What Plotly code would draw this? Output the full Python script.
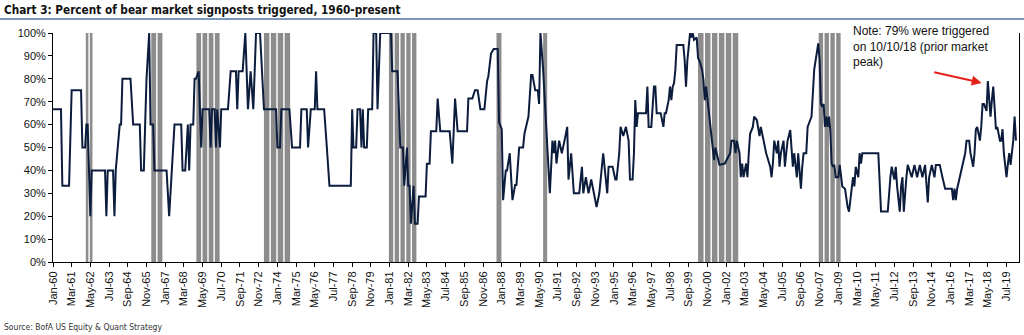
import math
import pandas as pd
import plotly.graph_objects as go

# ---- data ----
dates = [
    "1960-01","1960-07","1960-08","1961-01","1961-03","1961-10","1961-11","1962-01","1962-02","1962-03",
    "1962-05","1962-06","1963-04","1963-05","1963-06","1963-10","1963-11","1963-12","1964-03","1964-04",
    "1964-05","1964-11","1965-01","1965-06","1965-07","1965-09","1965-10","1965-11","1966-01","1966-02",
    "1966-04","1966-05","1967-02","1967-04","1967-06","1967-08","1968-01","1968-02","1968-04","1968-06",
    "1968-07","1968-08","1968-10","1968-11","1968-12","1969-02","1969-04","1969-05","1969-10","1969-11",
    "1969-12","1970-02","1970-03","1970-04","1970-06","1970-07","1970-12","1971-02","1971-06","1971-07",
    "1971-08","1971-11","1972-01","1972-03","1972-05","1972-07","1972-09","1972-12","1973-03","1973-12",
    "1974-01","1974-03","1974-04","1974-10","1974-12","1975-06","1975-07","1975-11","1975-12","1976-02",
    "1976-05","1976-06","1976-07","1976-12","1977-02","1977-04","1978-08","1978-09","1978-10","1978-12",
    "1979-01","1979-03","1979-04","1979-05","1979-06","1979-08","1979-09","1979-12",
    "1980-01","1980-03","1980-04","1980-06","1981-02","1981-03","1981-07","1981-09","1981-11","1981-12",
    "1982-02","1982-03","1982-04","1982-05","1982-07","1982-08","1982-10","1982-11","1983-04","1983-05",
    "1983-07","1983-08","1983-12","1984-01","1984-03","1984-10","1984-12","1985-01","1985-02","1985-04",
    "1985-11","1985-12","1986-03","1986-05","1986-07","1986-09","1986-12","1987-02","1987-03","1987-05",
    "1987-07","1987-10","1987-11","1988-01","1988-02","1988-04","1988-05","1988-07","1988-09","1988-11",
    "1988-12","1989-02","1989-05","1989-06","1989-09","1989-11","1989-12","1990-02","1990-04","1990-05",
    "1990-06","1990-08","1990-10","1991-01","1991-03","1991-04","1991-05","1991-06","1991-08","1991-10",
    "1991-12","1992-02","1992-03","1992-05","1992-07","1992-11","1993-01","1993-02","1993-04","1993-06",
    "1993-08","1993-10","1993-12","1994-02","1994-05","1994-08","1994-09","1994-12","1995-02","1995-03",
    "1995-05","1995-06","1995-08","1995-10","1995-12","1996-01","1996-03","1996-04","1996-05","1996-06",
    "1996-07","1997-01","1997-02","1997-03","1997-05","1997-07","1997-08","1997-09","1997-12","1998-02",
    "1998-03","1998-04","1998-06","1998-07","1998-08","1998-09","1998-10","1998-11","1998-12","1999-05",
    "1999-06","1999-07","1999-08","1999-10","1999-11","1999-12","2000-01","2000-03","2000-04","2000-05",
    "2000-07","2000-08","2000-09","2000-10","2000-11","2000-12","2001-01","2001-02","2001-03","2001-04",
    "2001-05","2001-06","2001-08","2001-12","2002-04","2002-05","2002-07","2002-08","2002-09","2002-11",
    "2002-12","2003-01","2003-02","2003-04","2003-05","2003-06","2003-07","2003-09","2003-10","2003-12",
    "2004-02","2004-03","2004-05","2004-07","2004-10","2004-11","2004-12","2005-01","2005-03","2005-04",
    "2005-05","2005-06","2005-08","2005-09","2005-10","2005-11","2006-01","2006-02","2006-03","2006-04",
    "2006-06","2006-07","2006-08","2006-09","2006-10","2006-11","2007-01","2007-02","2007-04","2007-05",
    "2007-07","2007-08","2007-09","2007-10","2007-11","2007-12","2008-01","2008-02","2008-03","2008-04",
    "2008-05","2008-06","2008-07","2008-08","2008-09","2008-10","2008-11","2009-01","2009-02","2009-03",
    "2009-04","2009-06","2009-07","2009-08","2009-09","2009-11","2009-12","2010-01","2010-02","2010-04",
    "2010-05","2010-06","2010-07","2011-07","2011-08","2011-09","2012-02","2012-03","2012-04","2012-05",
    "2012-07","2012-08","2012-09","2012-11","2012-12","2013-01","2013-02","2013-04","2013-05","2013-08",
    "2013-10","2013-12","2014-02","2014-04","2014-06","2014-08","2014-09","2014-11","2015-01","2015-02",
    "2015-05","2015-07","2015-09","2016-02","2016-03","2016-04","2016-05","2016-06","2016-08","2016-10",
    "2016-12","2017-01","2017-03","2017-04","2017-06","2017-07","2017-08","2017-09","2017-11","2017-12",
    "2018-01","2018-02","2018-04","2018-05","2018-06","2018-07","2018-08","2018-09","2018-10","2018-11",
    "2018-12","2019-02","2019-03","2019-04","2019-05","2019-07","2019-08","2019-09","2019-10","2019-11",
    "2019-12","2020-01","2020-02",
]
pct_triggered = [
    66.7,66.7,33.3,33.3,75,75,50,50,60,60,
    20,40,40,20,40,40,20,40,60,60,
    80,80,60,60,40,40,60,80,100,60,
    60,40,40,20,40,60,60,40,40,60,
    40,60,60,80,80,83.3,50,66.7,66.7,50,
    66.7,66.7,50,66.7,50,66.7,66.7,83.3,83.3,66.7,
    83.3,83.3,100,66.7,83.3,66.7,100,100,66.7,66.7,
    50,50,66.7,66.7,50,50,66.7,66.7,50,66.7,
    66.7,83.3,66.7,66.7,50,33.3,33.3,66.7,50,50,
    66.7,66.7,50,66.7,50,50,66.7,66.7,
    100,100,66.7,100,100,83.3,83.3,50,50,33.3,
    50,33.3,33.3,16.7,33.3,16.7,16.7,28.6,28.6,42.9,
    42.9,57.1,57.1,71.4,57.1,57.1,42.9,57.1,71.4,57.1,
    57.1,71.4,71.4,75,75,66.7,66.7,79,81,91,
    93,93,61,58,27,40,40,47.5,27,33.6,
    33.6,50,50,56,63.5,81.7,81.7,75,75,69,
    100,84,62,30,53,47.5,53,43,53,47.5,
    53,59,36,47.5,30,30,41.6,30,37,30,
    36,30,24,30,47.5,30,41.6,41.6,36,36,
    47.5,59,55,59,53,36,36,47.5,70.7,59,
    65,65,76.6,59,59,76.6,76.6,65,65,59,
    65,65,70.7,76.6,70.7,76.6,78,84,94.8,94.8,
    88,76.6,88,100,98,100,97,98,89,88,
    84,79.5,70.7,76.6,70.7,65,59,56,50,44.5,
    50,47.5,42.4,43,47.5,53,53,47.5,53,47.5,
    37,43,37,43,37,47.5,56,59,63.5,62,
    55,59,53,47.5,41.6,37,43,53,47.5,53,
    41.6,47.5,53,41.6,47.5,53,57.6,47.5,41.6,47.5,
    37,47.5,37,32,41.6,47.5,47.5,59,62,63.5,
    84,88,91,95.5,88,69,67.8,69,59,63.5,
    59,63.5,57.6,43,41.6,42.4,37,37,42.4,37,
    33,32,27,24,22,32,37,33,41.6,37,
    47.5,43,47.5,47.5,37,22,22,32,37,41.6,
    36,41.6,33,22,33,37,22,37,42.4,37,
    42.4,37,42.4,37,42.4,26,37,42.4,37,42.4,
    42.4,37,32,32,27,32,27,32,37,41.6,
    47.5,53,53,47.5,41.6,47.5,58,59,53,59,
    69,69,66,79,70.7,63.5,70.7,76.6,67.8,58,
    59,53,53,58,47.5,37,43,47.5,42.4,47.5,
    53,63.5,53,
]

# bear market periods (grey columns)
bear_start = ["1962-01-01","1966-02-01","1968-11-25","1973-02-12","1980-11-30",
              "1987-09-03","1990-08-01","2000-03-15","2007-09-25"]
bear_end = ["1962-07-05","1966-11-15","1970-06-10","1974-11-03","1982-09-20",
            "1987-12-25","1990-11-01","2002-10-20","2009-03-10"]

y_ticks = list(range(0, 101, 10))
y_tick_labels = [f"{v}%" for v in y_ticks]

# ---- build grey column blocks from bear market spans ----
bar_x, bar_w = [], []
for s, e in zip(bear_start, bear_end):
    s, e = pd.Timestamp(s), pd.Timestamp(e)
    span = e - s
    n = max(1, math.ceil((span.days / 30.44) / 5.3))
    seg = span / n
    gap = pd.Timedelta(days=33) if n > 1 else pd.Timedelta(0)
    for k in range(n):
        bar_x.append(s + seg * (k + 0.5))
        bar_w.append((seg - gap).total_seconds() * 1000)

fig = go.Figure()
fig.add_trace(go.Bar(x=bar_x, y=[100] * len(bar_x), width=bar_w,
                     marker=dict(color="#8c8c8c", line=dict(width=0)),
                     hoverinfo="skip"))
fig.add_trace(go.Scatter(x=dates, y=pct_triggered, mode="lines",
                         line=dict(color="#0c1c3c", width=2)))

W, H = 1024, 335
L, R, T, B = 53, 5, 33, 73
pw, ph = W - L - R, H - T - B

def px(xp):
    return (xp - L) / pw

def py(yp):
    return (H - B - yp) / ph

tick_font = dict(family="Liberation Sans, Arial, sans-serif", size=11, color="#111111")

fig.update_layout(
    width=W, height=H,
    margin=dict(l=L, r=R, t=T, b=B, pad=0),
    plot_bgcolor="white", paper_bgcolor="white",
    showlegend=False,
    xaxis=dict(type="date", range=["1960-01-01", "2020-04-10"],
               tick0="1960-01-01", dtick="M14", tickformat="%b-%y",
               tickangle=-90, ticks="outside", ticklen=4, tickcolor="black",
               showline=True, linecolor="black", linewidth=1,
               showgrid=False, zeroline=False, tickfont=tick_font),
    yaxis=dict(range=[0, 100], tickmode="array", tickvals=y_ticks, ticktext=y_tick_labels,
               ticks="outside", ticklen=4, tickcolor="black",
               showline=True, mirror=True, linecolor="black", linewidth=1,
               showgrid=False, zeroline=False, tickfont=tick_font),
)

fig.add_shape(type="line", xref="paper", yref="paper",
              x0=px(0), x1=px(W), y0=py(19), y1=py(19),
              line=dict(color="#4f73a8", width=1.5))

fig.add_annotation(xref="paper", yref="paper", x=px(2), y=py(10),
                   xanchor="left", yanchor="middle", showarrow=False,
                   text="<b>Chart 3: Percent of bear market signposts triggered, 1960-present</b>",
                   font=dict(family="Liberation Sans Narrow, DejaVu Sans Condensed, Arial Narrow, sans-serif",
                             size=11.7, color="#111111"))
fig.add_annotation(xref="paper", yref="paper", x=px(2), y=py(327),
                   xanchor="left", yanchor="middle", showarrow=False,
                   text="Source: BofA US Equity &amp; Quant Strategy",
                   font=dict(family="Liberation Sans Narrow, DejaVu Sans Condensed, Arial Narrow, sans-serif",
                             size=8.5, color="#333333"))
fig.add_annotation(xref="paper", yref="paper", x=px(851), y=py(22),
                   xanchor="left", yanchor="top", showarrow=False, align="left",
                   text="Note: 79% were triggered<br>on 10/10/18 (prior market<br>peak)",
                   font=dict(family="Liberation Sans, Arial, sans-serif", size=12, color="#111111"))
fig.add_annotation(x="2017-12-12", y=78.2, xref="x", yref="y",
                   ax=-49, ay=-11, text="", showarrow=True,
                   arrowhead=2, arrowsize=1, arrowwidth=2, arrowcolor="#e3231b")

fig.write_html("out.html")
